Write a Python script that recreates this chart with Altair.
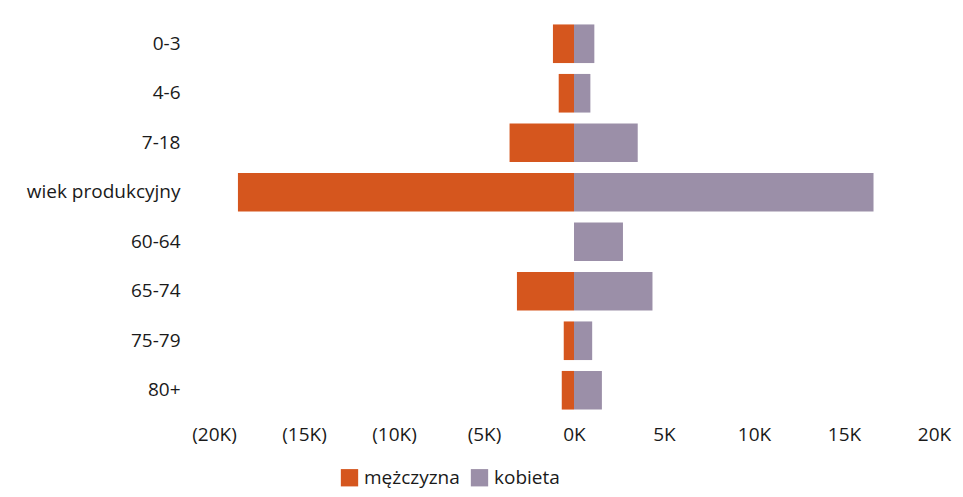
import altair as alt
import pandas as pd

categories = ["0-3", "4-6", "7-18", "wiek produkcyjny", "60-64", "65-74", "75-79", "80+"]
male = [-1170, -850, -3580, -18670, 0, -3170, -570, -680]
female = [1130, 910, 3540, 16640, 2720, 4360, 1010, 1550]
series = ["mężczyzna", "kobieta"]
colors = ["#D5561E", "#9B8FA8"]

rows = []
for c, m, f in zip(categories, male, female):
    rows.append({"grupa": c, "płeć": series[0], "wartość": m})
    rows.append({"grupa": c, "płeć": series[1], "wartość": f})
df = pd.DataFrame(rows)

FONT = "Open Sans"
FS = 19
TXT = "#1a1a1a"

label_expr = ("datum.value < 0 ? '(' + format(-datum.value/1000, 'd') + 'K)' : "
              "format(datum.value/1000, 'd') + 'K'")

chart = alt.Chart(df).mark_bar().encode(
    y=alt.Y("grupa:N", sort=categories, title=None,
            scale=alt.Scale(paddingInner=0.22, paddingOuter=0.11),
            axis=alt.Axis(domain=False, ticks=False, labelFontSize=FS, labelFont=FONT,
                          labelColor=TXT, labelPadding=34, labelAlign="right")),
    x=alt.X("wartość:Q", title=None,
            scale=alt.Scale(domain=[-20000, 20000], nice=False),
            axis=alt.Axis(values=[-20000, -15000, -10000, -5000, 0, 5000, 10000, 15000, 20000],
                          labelExpr=label_expr, grid=False, domain=False, ticks=False,
                          labelFlush=False,
                          labelFontSize=FS, labelFont=FONT, labelColor=TXT,
                          labelPadding=10)),
    color=alt.Color("płeć:N", sort=series,
                    scale=alt.Scale(domain=series, range=colors),
                    legend=alt.Legend(title=None, orient="none", direction="horizontal",
                                      legendX=126, legendY=449,
                                      symbolType="square", symbolSize=300,
                                      symbolStrokeWidth=0,
                                      labelFontSize=FS, labelFont=FONT, labelColor=TXT,
                                      columnPadding=10, labelOffset=5)),
    order=alt.Order("płeć:N"),
).properties(
    width=720, height=396,
    padding={"left": 206, "top": 11, "right": 21, "bottom": 74},
    autosize=alt.AutoSizeParams(type="none"),
).configure_view(stroke=None)

chart.save("out.html", embed_options={"renderer": "svg", "actions": False})
